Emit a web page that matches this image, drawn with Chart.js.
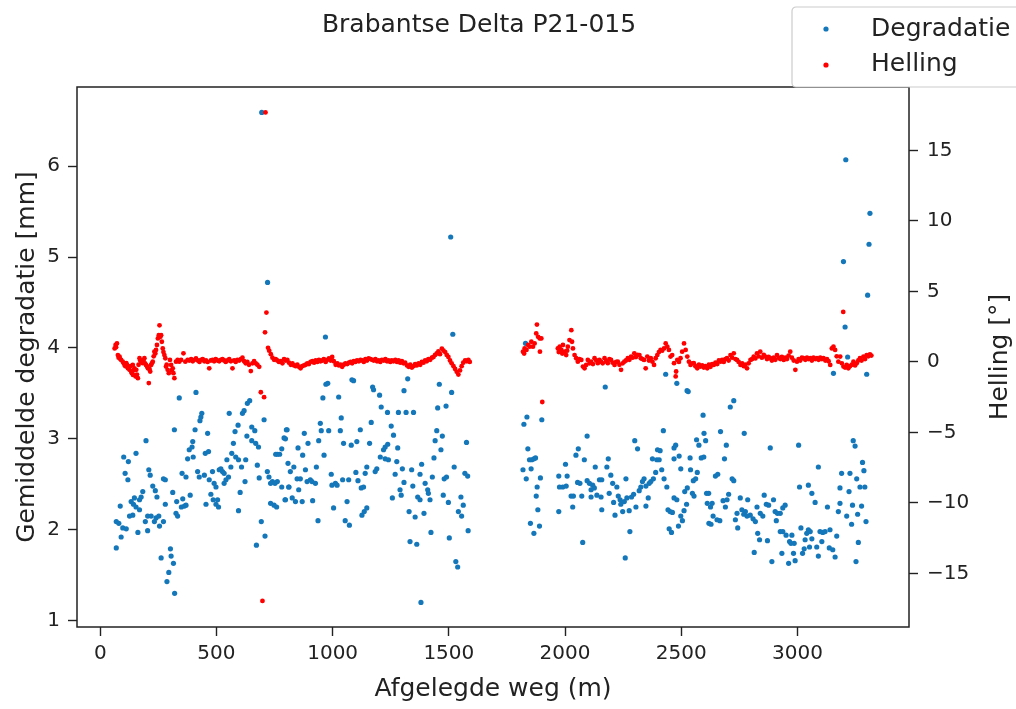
<!DOCTYPE html>
<html>
<head>
<meta charset="utf-8">
<script src="https://cdn.jsdelivr.net/npm/chart.js@4.4.1/dist/chart.umd.min.js"></script>
<style>
  html, body { margin: 0; padding: 0; background: #fff; }
  #wrap { width: 1016px; height: 709px; }
</style>
</head>
<body>
<div id="wrap"><canvas id="grafiek" width="1016" height="709"></canvas></div>
<script>
// Metingen langs de route: [afgelegde weg (m), waarde]
const degradatie = [
  [695, 6.59], [720, 4.72], [969, 4.12], [1508, 5.22], [1517, 4.15], [1830, 4.05],
  [3208, 6.07], [3312, 5.48], [3308, 5.14], [3198, 4.95], [3302, 4.58], [3205, 4.23],
  [3216, 3.90], [3155, 3.72], [3298, 3.71], [2525, 3.53],
  [69, 2.09], [80, 2.07], [69, 1.80], [90, 1.92], [97, 2.02], [112, 2.01], [86, 2.26],
  [101, 2.80], [121, 2.75], [107, 2.62], [119, 2.55], [154, 2.84], [133, 2.31], [143, 2.28],
  [147, 2.35], [154, 2.25], [169, 2.33], [169, 2.22], [140, 2.16], [126, 2.15], [162, 1.97],
  [176, 2.36], [183, 2.42], [197, 2.98], [209, 2.66], [215, 2.60], [204, 2.15], [194, 2.09],
  [204, 1.99], [219, 2.15], [226, 2.48], [237, 2.43], [244, 2.36], [240, 2.13], [252, 2.15],
  [233, 2.09], [255, 2.04], [272, 2.09], [272, 2.56], [280, 2.55], [280, 2.28], [262, 1.69],
  [302, 1.79], [305, 1.71], [315, 1.63], [295, 1.53], [287, 1.43], [320, 1.30], [312, 2.41],
  [319, 3.10], [329, 2.31], [326, 2.18], [333, 2.15], [340, 3.45], [349, 2.25], [355, 2.34],
  [362, 2.26], [369, 2.27], [387, 2.38], [352, 2.62], [369, 2.58], [376, 2.78], [383, 2.88],
  [395, 2.91], [398, 2.97], [400, 2.80], [408, 3.10], [412, 3.51], [429, 3.20], [433, 3.24],
  [437, 3.28], [462, 3.06], [452, 2.84], [466, 2.86], [419, 2.64], [426, 2.58], [448, 2.60],
  [469, 2.55], [476, 2.39], [455, 2.28], [486, 2.33], [498, 2.28], [509, 2.25], [505, 2.33],
  [483, 2.64], [490, 2.51], [498, 2.47], [512, 2.66], [519, 2.67], [526, 2.64], [533, 2.62],
  [545, 2.77], [533, 2.51], [541, 2.55], [552, 2.58], [562, 2.69], [566, 2.84], [555, 3.28],
  [573, 2.95], [580, 3.08], [593, 3.15], [583, 2.80], [595, 2.77], [608, 2.69], [612, 3.28],
  [619, 3.31], [633, 3.39], [643, 3.42], [631, 3.03], [652, 3.13], [665, 3.09], [652, 2.98],
  [669, 2.95], [681, 2.91], [626, 2.77], [623, 2.53], [602, 2.41], [595, 2.21], [676, 2.71],
  [684, 2.57], [705, 3.21], [693, 2.09], [709, 1.93], [672, 1.83], [719, 2.64], [726, 2.58],
  [733, 2.51], [741, 2.53], [752, 2.51], [762, 2.53], [733, 2.29], [748, 2.27], [759, 2.25],
  [755, 2.83], [762, 2.83], [772, 2.83], [781, 2.89], [791, 3.01], [801, 3.10], [808, 2.73],
  [812, 2.47], [795, 2.33], [781, 2.47],
  [804, 3.10], [797, 3.00], [818, 2.64], [833, 2.69], [811, 2.47], [797, 2.33], [826, 2.35],
  [840, 2.31], [869, 2.31], [854, 2.44], [847, 2.56], [861, 2.56], [883, 2.66], [851, 2.90],
  [871, 2.82], [878, 3.06], [894, 2.95], [890, 2.53], [904, 2.55], [911, 2.53], [926, 2.51],
  [914, 2.32], [930, 2.69], [940, 2.98], [947, 3.17], [951, 3.09], [958, 3.45], [971, 3.60],
  [979, 3.61], [963, 2.82], [983, 3.09], [937, 2.10], [994, 2.61], [997, 2.49], [1012, 2.51],
  [1019, 2.49], [1004, 2.24], [1026, 3.46], [1037, 3.23], [1033, 3.09], [1047, 2.95],
  [1043, 2.55], [1062, 2.31], [1069, 2.55], [1054, 2.10], [1072, 2.05], [1080, 2.93],
  [1083, 3.65], [1090, 3.64], [1104, 2.97], [1100, 2.63], [1109, 2.54], [1119, 3.10],
  [1123, 2.46], [1133, 2.47], [1126, 2.16], [1136, 2.20], [1147, 2.24], [1147, 2.69],
  [1140, 2.62], [1159, 2.95], [1166, 3.18], [1172, 3.57], [1176, 3.54], [1183, 2.64],
  [1190, 2.67], [1202, 3.48], [1205, 2.80], [1209, 3.35], [1219, 2.88], [1226, 2.91],
  [1237, 2.94], [1226, 2.78], [1240, 2.77], [1236, 3.29], [1252, 3.14], [1262, 3.04],
  [1280, 2.90], [1276, 2.75], [1257, 2.35], [1269, 2.61], [1283, 3.29], [1300, 2.67],
  [1307, 2.52], [1290, 2.44], [1295, 2.38], [1307, 3.53], [1316, 3.29], [1323, 3.66],
  [1329, 2.20], [1340, 2.66], [1345, 2.48], [1348, 3.29], [1355, 2.14], [1333, 1.87],
  [1362, 1.84], [1366, 2.36], [1376, 2.33], [1376, 2.61], [1383, 2.72], [1393, 2.18],
  [1398, 2.51], [1409, 2.44], [1412, 2.40], [1419, 2.33], [1429, 2.58], [1423, 1.97],
  [1436, 2.79], [1441, 2.98], [1448, 3.09], [1452, 3.34], [1459, 3.60], [1466, 2.88],
  [1472, 3.03], [1480, 2.56], [1490, 2.58], [1476, 2.38], [1498, 2.30], [1488, 3.36],
  [1512, 3.51], [1523, 2.69], [1502, 1.91], [1530, 1.65], [1538, 1.59], [1380, 1.20],
  [1541, 2.20], [1552, 2.36], [1562, 2.27], [1555, 2.15], [1569, 2.62], [1581, 2.59],
  [1576, 2.96], [1583, 1.99],
  [1823, 3.16], [1836, 3.24], [1840, 2.89], [1819, 2.66], [1833, 2.56], [1847, 2.77],
  [1857, 2.77], [1866, 2.78], [1873, 2.79], [1854, 2.67], [1880, 2.47], [1876, 2.37],
  [1894, 2.57], [1900, 3.21], [1883, 2.22], [1851, 2.07], [1866, 1.96], [1890, 2.04],
  [1973, 2.59], [1976, 2.47], [1973, 2.20], [1990, 2.47], [2002, 2.72], [2009, 2.59],
  [2005, 2.48], [2026, 2.37], [2036, 2.37], [2033, 2.25], [2047, 2.82], [2057, 2.89],
  [2054, 2.52], [2072, 2.37], [2064, 2.51], [2076, 1.86], [2083, 2.77], [2095, 3.03],
  [2095, 2.54], [2105, 2.51], [2112, 2.44], [2119, 2.49], [2112, 2.36], [2130, 2.69],
  [2126, 2.46], [2137, 2.38], [2148, 2.55], [2158, 2.55], [2155, 2.36], [2158, 2.22],
  [2173, 3.57], [2180, 2.69], [2186, 2.78], [2190, 2.40], [2197, 2.60], [2205, 2.51],
  [2209, 2.30], [2215, 2.16], [2223, 2.47], [2229, 2.37], [2237, 2.33], [2240, 2.28],
  [2248, 2.20], [2255, 2.31], [2262, 2.56], [2266, 2.35], [2276, 2.21], [2279, 1.98],
  [2286, 2.36], [2295, 2.39], [2305, 2.25], [2300, 2.98], [2312, 2.89], [2259, 1.69],
  [2319, 2.43], [2326, 2.47], [2333, 2.53], [2340, 2.56], [2348, 2.48], [2348, 2.26],
  [2358, 2.35], [2362, 2.51], [2369, 2.53], [2380, 2.56], [2390, 2.63], [2398, 2.88],
  [2409, 2.87], [2376, 2.78], [2395, 2.77], [2405, 2.77], [2416, 2.66], [2423, 3.09],
  [2433, 3.71], [2426, 2.56], [2438, 2.47], [2443, 2.22], [2452, 2.20], [2462, 2.19],
  [2448, 2.01], [2458, 1.97], [2469, 2.90], [2476, 2.93], [2469, 2.78], [2481, 3.61],
  [2491, 2.81], [2498, 2.67], [2469, 2.35], [2481, 2.33], [2498, 2.15], [2488, 2.04],
  [2505, 2.10], [2512, 2.21], [2523, 2.28], [2515, 2.42], [2526, 2.46], [2530, 3.52],
  [2538, 2.79], [2540, 2.66], [2548, 2.40], [2555, 2.37], [2552, 2.54], [2562, 2.56],
  [2569, 2.63], [2566, 2.99], [2576, 2.93], [2586, 2.79], [2594, 3.26], [2598, 3.06],
  [2605, 2.98], [2609, 2.40], [2612, 2.29], [2619, 2.07],
  [2597, 2.80], [2618, 2.40], [2633, 2.29], [2626, 2.25], [2637, 2.15], [2628, 2.06],
  [2654, 2.11], [2666, 2.10], [2647, 2.59], [2657, 2.61], [2669, 3.08], [2686, 2.78],
  [2694, 2.93], [2680, 2.32], [2697, 2.33], [2690, 2.25], [2704, 2.39], [2711, 3.35],
  [2726, 3.42], [2719, 2.56], [2726, 2.54], [2733, 2.11], [2740, 2.18], [2743, 2.02],
  [2754, 2.35], [2761, 2.22], [2769, 2.17], [2776, 2.20], [2786, 2.33], [2783, 2.15],
  [2797, 2.16], [2809, 2.12], [2819, 2.09], [2771, 3.06], [2814, 1.75], [2829, 1.96],
  [2837, 1.89], [2826, 2.25], [2840, 2.18], [2851, 2.15], [2857, 2.38], [2866, 2.28],
  [2876, 2.27], [2871, 1.88], [2883, 2.90], [2890, 1.65], [2897, 2.33], [2904, 2.20],
  [2909, 2.10], [2914, 2.18], [2926, 2.18], [2937, 2.24], [2947, 2.27], [2926, 1.98],
  [2937, 1.98], [2933, 1.74], [2951, 1.94], [2962, 1.63], [2966, 1.87], [2972, 1.85],
  [2976, 1.94], [2983, 1.74], [2990, 1.66], [2986, 1.85], [3005, 2.93], [3009, 2.47],
  [3015, 2.02], [3022, 1.74], [3029, 1.79], [3033, 1.89], [3040, 1.96], [3047, 2.00],
  [3055, 1.98], [3047, 2.49], [3062, 2.40], [3052, 1.81], [3062, 1.90], [3076, 2.30],
  [3083, 1.81], [3090, 2.69], [3090, 1.71], [3097, 1.98], [3109, 1.97], [3105, 1.87],
  [3119, 1.98], [3129, 2.25], [3137, 1.80], [3140, 2.00], [3152, 1.78], [3162, 1.70],
  [3169, 1.93], [3176, 2.20], [3183, 2.29], [3190, 2.62], [3183, 2.46], [3212, 2.15],
  [3222, 2.42], [3226, 2.62], [3233, 2.06], [3237, 2.27], [3240, 2.98], [3248, 2.92],
  [3252, 1.65], [3255, 2.56], [3259, 2.17], [3262, 1.86], [3269, 2.47], [3276, 2.26],
  [3280, 2.74], [3286, 2.65], [3290, 2.47], [3295, 2.09]
];

const helling = [
  [62, 0.96], [66, 1.2], [68, 1.05], [72, 1.31], [76, 0.49], [79, 0.3], [83, 0.38], [86, 0.2],
  [90, 0.14], [97, 0.02], [101, -0.1], [105, -0.21], [108, -0.3], [112, -0.09], [115, -0.2],
  [119, -0.45], [122, -0.4], [126, -0.56], [130, -0.3], [133, -0.68], [136, -0.8], [140, -0.21],
  [141, -0.92], [144, -0.6], [147, -0.45], [152, -1.03], [155, -0.56], [158, -0.9], [162, -1.15],
  [165, -0.2], [169, 0.26], [172, 0.1], [176, 0.02], [180, 0.0], [183, -0.09], [186, 0.1],
  [190, 0.26], [193, -0.1], [197, -0.21], [201, -0.3], [205, -0.45], [209, -1.5], [212, -0.5],
  [215, -0.68], [219, -0.21], [222, -0.1], [226, 0.02], [230, 0.4], [233, 0.73], [237, 0.6],
  [240, 0.85], [244, 1.2], [248, 1.67], [252, 1.9], [255, 2.6], [259, 1.78], [262, 1.9],
  [265, 1.43], [269, 0.96], [272, 0.7], [276, 0.49], [280, 0.26], [283, -0.33], [286, -0.2],
  [290, -0.56], [295, -0.8], [300, 0.14], [305, -0.21], [308, -0.6], [312, -0.45], [315, -0.8],
  [319, -1.15], [326, 0.02], [333, 0.14], [340, 0.02], [348, 0.14], [358, 0.61], [366, 0.02],
  [376, 0.14], [383, 0.1], [391, 0.2], [398, 0.05], [405, 0.15], [412, 0.25], [420, 0.1],
  [427, 0.0], [434, 0.15], [441, 0.2], [448, 0.05], [455, 0.1], [462, 0.0], [469, -0.45],
  [476, 0.1], [483, 0.15], [490, 0.05], [497, 0.2], [505, 0.1], [512, 0.05], [519, 0.15],
  [526, 0.2], [533, 0.1], [540, 0.0], [547, 0.1], [555, 0.2], [562, 0.05], [569, -0.45],
  [576, 0.1], [583, 0.0], [590, 0.15], [598, 0.1], [605, 0.2], [612, 0.3], [619, 0.05],
  [626, -0.1], [633, 0.0], [640, -0.2], [648, -0.65], [655, -0.1], [662, 0.05], [669, -0.1],
  [676, -0.2], [684, -0.35], [691, -2.15], [698, -16.95], [705, -2.5], [709, 2.1], [711, 17.7],
  [715, 3.5], [722, 1.0], [727, 0.8], [734, 0.55], [741, 0.3], [748, 0.15],
  [755, 0.2], [762, 0.1], [769, 0.0], [777, 0.05], [784, -0.1], [791, 0.2], [798, 0.1],
  [805, 0.15], [812, -0.05], [820, -0.2], [827, -0.1], [834, -0.25], [841, -0.3], [848, -0.2],
  [855, -0.35], [862, -0.45], [869, -0.3], [877, -0.25], [884, -0.2], [891, -0.1], [898, -0.15],
  [905, 0.0], [913, 0.05], [920, -0.05], [927, 0.1], [934, 0.0], [941, 0.15], [948, 0.05],
  [955, 0.1], [962, 0.2], [970, 0.0], [977, 0.15], [984, 0.25], [991, 0.1], [998, 0.35],
  [1005, 0.05], [1013, -0.2], [1020, -0.1], [1027, -0.25], [1034, -0.2], [1041, -0.35],
  [1048, -0.2], [1055, -0.1], [1063, -0.15], [1070, -0.05], [1077, 0.0], [1084, -0.1],
  [1091, 0.05], [1098, 0.0], [1105, 0.1], [1113, 0.05], [1120, 0.15], [1127, 0.1], [1134, 0.0],
  [1141, 0.2], [1148, 0.1], [1155, 0.25], [1163, 0.2],
  [1170, 0.15], [1177, 0.1], [1184, 0.2], [1191, 0.05], [1198, 0.1], [1205, 0.0], [1212, 0.15],
  [1220, 0.1], [1227, 0.2], [1234, 0.05], [1241, 0.1], [1248, 0.0], [1255, 0.1], [1262, 0.05],
  [1270, 0.15], [1277, 0.0], [1284, 0.1], [1291, -0.05], [1298, 0.05], [1305, -0.1],
  [1312, -0.05], [1320, -0.25], [1327, -0.35], [1334, -0.2], [1341, -0.4], [1348, -0.3],
  [1355, -0.15], [1362, -0.25], [1370, -0.1], [1377, -0.2], [1384, 0.0], [1391, -0.05],
  [1398, 0.1], [1405, 0.05], [1412, 0.2], [1420, 0.15], [1427, 0.3], [1434, 0.35], [1441, 0.5],
  [1448, 0.6], [1455, 0.75], [1462, 0.55], [1470, 0.95], [1477, 0.8], [1484, 0.7], [1491, 0.5],
  [1498, 0.35], [1505, 0.1], [1512, -0.1], [1520, -0.3], [1527, -0.5], [1534, -0.7],
  [1541, -0.9], [1548, -0.6], [1555, -0.3], [1562, -0.05], [1570, 0.1], [1577, 0.05],
  [1584, 0.15], [1590, 0.0],
  [1819, 0.73], [1824, 0.6], [1826, 0.96], [1834, 0.85], [1841, 1.2], [1848, 1.08],
  [1855, 1.43], [1862, 1.08], [1869, 1.31], [1876, 2.02], [1879, 2.65], [1884, 1.78],
  [1891, 1.67], [1892, 0.73], [1898, 1.67], [1902, -2.84],
  [1969, 0.96], [1973, 0.7], [1977, 1.08], [1984, 0.85], [1988, 0.6], [1991, 1.2], [1998, 0.73],
  [2005, 0.49], [2009, 0.8], [2012, 1.08], [2019, 1.55], [2027, 2.25], [2030, 1.43], [2034, 0.96],
  [2041, 0.49], [2048, 0.26], [2055, 0.02], [2062, 0.2], [2070, 0.14], [2077, -0.33],
  [2084, -0.45], [2091, -0.21], [2098, 0.14], [2105, -0.1], [2112, 0.02], [2120, -0.15],
  [2127, 0.26], [2134, 0.1], [2141, -0.09], [2148, 0.15], [2155, 0.02], [2162, -0.1],
  [2170, 0.26], [2177, 0.05], [2184, -0.09], [2191, 0.2], [2198, 0.14], [2205, -0.05],
  [2213, -0.21], [2220, 0.0], [2227, 0.02], [2234, -0.2], [2241, -0.56], [2248, -0.1],
  [2255, 0.02], [2262, 0.1], [2270, 0.26], [2277, 0.15], [2284, 0.38], [2291, 0.3], [2298, 0.61],
  [2305, 0.35], [2312, 0.5], [2320, 0.49], [2326, 0.26], [2333, 0.2], [2340, 0.14],
  [2347, -0.45], [2354, 0.38], [2361, 0.1], [2369, 0.26], [2376, 0.02], [2383, -0.21],
  [2390, 0.26], [2397, 0.49], [2404, 0.7], [2411, 0.85], [2418, 0.8], [2426, 0.96], [2433, 1.31],
  [2440, 1.08], [2447, 0.85], [2454, 0.38], [2461, 0.49], [2469, -0.09], [2476, -1.03],
  [2478, -0.68], [2483, 0.14], [2490, 0.0], [2497, 0.26], [2504, 0.73], [2512, 1.31],
  [2519, 0.85], [2526, 0.38], [2533, 0.02], [2540, -0.21], [2547, -0.1], [2554, -0.09],
  [2561, -0.3], [2569, -0.45], [2576, -0.2], [2583, -0.33], [2590, -0.25], [2597, -0.4],
  [2604, -0.3], [2612, -0.45], [2619, -0.2], [2626, -0.35], [2633, -0.15], [2640, -0.21],
  [2647, -0.05], [2655, -0.15], [2662, 0.1], [2669, 0.02], [2676, 0.15], [2683, 0.0],
  [2690, 0.2], [2697, 0.26], [2704, 0.1], [2712, 0.49], [2719, 0.3], [2726, 0.61], [2733, 0.2],
  [2740, 0.14], [2747, 0.0], [2755, -0.21], [2762, -0.1], [2769, -0.3], [2776, -0.2],
  [2783, -0.45], [2790, -0.1], [2798, 0.14], [2805, 0.2], [2812, 0.38], [2819, 0.25],
  [2826, 0.61], [2833, 0.4], [2840, 0.73], [2847, 0.3], [2855, 0.5], [2862, 0.38], [2869, 0.2],
  [2876, 0.35], [2883, 0.26], [2890, 0.1], [2898, 0.3], [2905, 0.15], [2912, 0.49], [2919, 0.3],
  [2926, 0.2], [2933, 0.35], [2941, 0.14], [2948, 0.3], [2955, 0.2], [2962, 0.45], [2969, 0.73],
  [2976, 0.3], [2984, 0.1], [2991, -0.56], [2998, 0.02], [3005, 0.2], [3012, 0.1], [3019, 0.3],
  [3026, 0.26], [3034, 0.15], [3041, 0.3], [3048, 0.2], [3055, 0.26], [3062, 0.1], [3069, 0.3],
  [3077, 0.2], [3084, 0.26], [3091, 0.15], [3098, 0.3], [3105, 0.2], [3112, 0.26], [3120, 0.1],
  [3127, 0.2], [3134, 0.05], [3141, -0.21], [3148, 0.96], [3155, 1.08], [3162, 0.85],
  [3169, 0.4], [3176, 0.02], [3184, 0.38], [3191, -0.1], [3197, 3.55], [3198, -0.33],
  [3205, -0.4], [3212, -0.21], [3219, -0.45], [3226, -0.3], [3234, -0.2], [3241, 0.02],
  [3248, -0.25], [3255, -0.1], [3262, 0.1], [3269, 0.26], [3276, 0.1], [3284, 0.38],
  [3291, 0.2], [3298, 0.49], [3305, 0.4], [3312, 0.54], [3318, 0.45]
];

const afstandTicks = [0, 500, 1000, 1500, 2000, 2500, 3000];
const degradatieTicks = [1, 2, 3, 4, 5, 6];
const hellingTicks = [-15, -10, -5, 0, 5, 10, 15];

const FONT = 'DejaVu Sans';
const TEKST = '#222222';
const BLAUW = '#1477ba';
const ROOD = '#ff0000';

function naarPunten(rijen) {
    return rijen.map(r => ({ x: r[0], y: r[1] }));
}

function vasteTicks(lijst) {
    return function(scale) {
        scale.ticks = lijst.map(v => ({ value: v }));
    };
}

var asStijl = {
    grid: { display: true, drawOnChartArea: false, drawTicks: true, tickLength: 9, tickColor: '#222', tickWidth: 1.4 },
    border: { display: false }
};

// titel, astitels, kader en legenda zelf tekenen
var opmaak = {
    id: 'opmaak',
    afterDraw: function(chart) {
        var c = chart.ctx;
        var a = chart.chartArea;
        c.save();
        c.strokeStyle = '#222';
        c.lineWidth = 1.5;
        c.strokeRect(a.left, a.top, a.right - a.left, a.bottom - a.top);

        c.fillStyle = TEKST;
        c.textAlign = 'center';
        c.textBaseline = 'middle';
        c.font = '25px "' + FONT + '"';
        c.fillText('Brabantse Delta P21-015', 479, 25);
        c.fillText('Afgelegde weg (m)', (a.left + a.right) / 2, 689);

        c.save();
        c.translate(27, (a.top + a.bottom) / 2);
        c.rotate(-Math.PI / 2);
        c.fillText('Gemiddelde degradatie [mm]', 0, 0);
        c.restore();

        c.save();
        c.translate(1000, (a.top + a.bottom) / 2);
        c.rotate(-Math.PI / 2);
        c.fillText('Helling [°]', 0, 0);
        c.restore();

        // legenda
        c.fillStyle = '#fff';
        c.strokeStyle = '#cccccc';
        c.lineWidth = 1.2;
        c.beginPath();
        c.roundRect(792, 7, 240, 80, 4);
        c.fill();
        c.stroke();

        c.fillStyle = BLAUW;
        c.beginPath(); c.arc(826, 29, 2.6, 0, Math.PI * 2); c.fill();
        c.fillStyle = ROOD;
        c.beginPath(); c.arc(826, 65, 2.6, 0, Math.PI * 2); c.fill();

        c.fillStyle = TEKST;
        c.textAlign = 'left';
        c.font = '25px "' + FONT + '"';
        c.fillText('Degradatie', 871, 29);
        c.fillText('Helling', 871, 64);
        c.restore();
    }
};

var ctx = document.getElementById('grafiek').getContext('2d');

new Chart(ctx, {
    type: 'scatter',
    data: {
        datasets: [{
            label: 'Helling',
            data: naarPunten(helling),
            yAxisID: 'yR',
            backgroundColor: ROOD,
            borderWidth: 0,
            pointRadius: 2.4,
            order: 0
        }, {
            label: 'Degradatie',
            data: naarPunten(degradatie),
            yAxisID: 'yL',
            backgroundColor: BLAUW,
            borderWidth: 0,
            pointRadius: 2.6,
            order: 1
        }]
    },
    options: {
        responsive: false,
        animation: false,
        devicePixelRatio: 1,
        layout: { padding: { top: 87, left: 0, right: 0, bottom: 0 } },
        plugins: {
            legend: { display: false },
            title: { display: false },
            tooltip: { enabled: false }
        },
        scales: {
            x: Object.assign({}, asStijl, {
                type: 'linear',
                min: -100,
                max: 3480,
                afterBuildTicks: vasteTicks(afstandTicks),
                afterFit: function(s) { s.height = 82; },
                ticks: {
                    color: TEKST, padding: 6, font: { family: FONT, size: 20 },
                    callback: function(v) { return String(v); }
                }
            }),
            yL: Object.assign({}, asStijl, {
                type: 'linear',
                position: 'left',
                min: 0.93,
                max: 6.87,
                afterBuildTicks: vasteTicks(degradatieTicks),
                afterFit: function(s) { s.width = 77; },
                ticks: { color: TEKST, padding: 8, font: { family: FONT, size: 20 } }
            }),
            yR: Object.assign({}, asStijl, {
                type: 'linear',
                position: 'right',
                min: -18.8,
                max: 19.5,
                afterBuildTicks: vasteTicks(hellingTicks),
                afterFit: function(s) { s.width = 107; },
                ticks: {
                    color: TEKST, padding: 9, font: { family: FONT, size: 20 },
                    callback: function(v) { return String(v).replace('-', '\u2212'); }
                }
            })
        }
    },
    plugins: [opmaak]
});
</script>
</body>
</html>
